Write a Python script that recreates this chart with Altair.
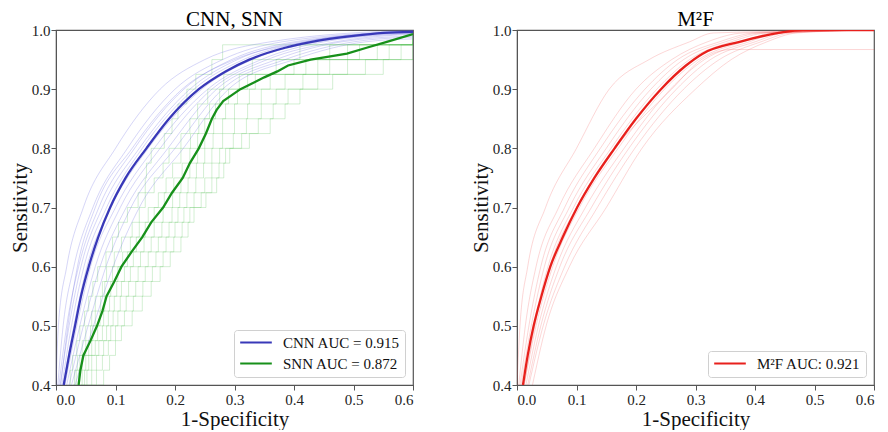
import altair as alt
import pandas as pd

# ---------------- tick labels ----------------
x_ticks = [0.0, 0.1, 0.2, 0.3, 0.4, 0.5, 0.6]
y_ticks = [0.4, 0.5, 0.6, 0.7, 0.8, 0.9, 1.0]

# ---------------- left panel: CNN / SNN ----------------
cnn_label = "CNN AUC = 0.915"
snn_label = "SNN AUC = 0.872"

cnn_mean_tpr = [0.4, 0.45, 0.5, 0.55, 0.6, 0.65, 0.7, 0.75, 0.8, 0.85, 0.9, 0.93, 0.95, 0.97, 0.98, 0.99, 0.995, 0.997]
cnn_mean_fpr = [0.013, 0.022, 0.032, 0.042, 0.055, 0.071, 0.091, 0.117, 0.152, 0.19, 0.24, 0.285, 0.325, 0.385, 0.43, 0.50, 0.55, 0.6]

snn_mean_tpr = [0.4, 0.425, 0.45, 0.475, 0.5, 0.525, 0.55, 0.575, 0.6, 0.625, 0.65, 0.675, 0.7, 0.725, 0.75,
                0.775, 0.8, 0.825, 0.85, 0.865, 0.88, 0.9, 0.92, 0.93, 0.94, 0.95, 0.96, 0.97, 0.98, 0.993]
snn_mean_fpr = [0.038, 0.041, 0.046, 0.058, 0.069, 0.078, 0.085, 0.098, 0.110, 0.127, 0.145, 0.160, 0.180, 0.195, 0.213,
                0.225, 0.240, 0.252, 0.262, 0.270, 0.281, 0.310, 0.350, 0.372, 0.390, 0.428, 0.489, 0.522, 0.556, 0.6]

# individual CNN runs: FPR at these sensitivity levels, then end value at FPR 0.6
cnn_run_tpr = [0.4, 0.5, 0.6, 0.7, 0.8, 0.9, 0.95, 0.98]
cnn_runs = {
    "c1": [0.000, 0.004, 0.018, 0.046, 0.100, 0.175, 0.250, 0.36],
    "c2": [0.003, 0.012, 0.030, 0.062, 0.120, 0.200, 0.280, 0.38],
    "c3": [0.005, 0.018, 0.038, 0.072, 0.132, 0.215, 0.295, 0.40],
    "c4": [0.007, 0.022, 0.042, 0.078, 0.140, 0.225, 0.305, 0.41],
    "c5": [0.010, 0.026, 0.047, 0.085, 0.145, 0.232, 0.315, 0.42],
    "c6": [0.012, 0.030, 0.052, 0.092, 0.155, 0.245, 0.330, 0.44],
    "c7": [0.015, 0.035, 0.058, 0.100, 0.165, 0.255, 0.345, 0.45],
    "c8": [0.018, 0.040, 0.066, 0.108, 0.175, 0.262, 0.355, 0.47],
    "c9": [0.022, 0.046, 0.074, 0.118, 0.188, 0.270, 0.370, 0.48],
    "c10": [0.026, 0.054, 0.084, 0.126, 0.200, 0.280, 0.385, 0.50],
    "c11": [0.032, 0.063, 0.096, 0.140, 0.214, 0.290, 0.400, 0.52],
    "c12": [0.008, 0.020, 0.036, 0.066, 0.128, 0.212, 0.300, 0.42],
}
cnn_run_end = {"c1": 1.0, "c2": 0.998, "c3": 0.997, "c4": 0.996, "c5": 0.999, "c6": 0.995,
               "c7": 0.994, "c8": 0.993, "c9": 0.99, "c10": 0.988, "c11": 0.985, "c12": 0.997}

# individual SNN runs (step curves)
snn_run_tpr = [0.4, 0.425, 0.45, 0.475, 0.5, 0.525, 0.55, 0.575, 0.6, 0.625, 0.65, 0.675, 0.7, 0.725, 0.75,
               0.775, 0.8, 0.825, 0.85, 0.875, 0.9, 0.925, 0.95, 0.975]
snn_runs = {
    "s1": [0.022, 0.024, 0.028, 0.035, 0.040, 0.048, 0.055, 0.062, 0.070, 0.084, 0.095, 0.105, 0.120, 0.138, 0.150,
           0.152, 0.160, 0.182, 0.195, 0.205, 0.220, 0.235, 0.262, 0.280],
    "s2": [0.028, 0.031, 0.036, 0.044, 0.050, 0.060, 0.066, 0.078, 0.085, 0.098, 0.110, 0.128, 0.140, 0.150, 0.165,
           0.180, 0.190, 0.210, 0.225, 0.238, 0.255, 0.282, 0.330, 0.410],
    "s3": [0.030, 0.034, 0.040, 0.050, 0.058, 0.066, 0.075, 0.082, 0.095, 0.112, 0.125, 0.140, 0.155, 0.172, 0.185,
           0.196, 0.210, 0.226, 0.240, 0.258, 0.275, 0.308, 0.370, 0.460],
    "s4": [0.034, 0.038, 0.044, 0.055, 0.062, 0.074, 0.082, 0.092, 0.104, 0.120, 0.135, 0.150, 0.165, 0.182, 0.198,
           0.212, 0.225, 0.238, 0.250, 0.268, 0.290, 0.322, 0.400, 0.490],
    "s5": [0.038, 0.044, 0.050, 0.060, 0.070, 0.080, 0.090, 0.102, 0.115, 0.130, 0.148, 0.165, 0.180, 0.196, 0.210,
           0.225, 0.238, 0.250, 0.265, 0.285, 0.305, 0.335, 0.420, 0.510],
    "s6": [0.042, 0.048, 0.055, 0.066, 0.078, 0.088, 0.098, 0.110, 0.125, 0.142, 0.160, 0.178, 0.195, 0.208, 0.222,
           0.236, 0.250, 0.264, 0.280, 0.300, 0.325, 0.360, 0.440, 0.540],
    "s7": [0.046, 0.052, 0.060, 0.072, 0.085, 0.096, 0.108, 0.122, 0.138, 0.155, 0.172, 0.190, 0.205, 0.220, 0.235,
           0.248, 0.262, 0.280, 0.300, 0.322, 0.345, 0.385, 0.460, 0.560],
    "s8": [0.052, 0.060, 0.068, 0.080, 0.092, 0.104, 0.118, 0.134, 0.150, 0.168, 0.185, 0.200, 0.215, 0.232, 0.250,
           0.262, 0.275, 0.298, 0.320, 0.345, 0.370, 0.415, 0.490, 0.580],
    "s9": [0.060, 0.068, 0.078, 0.088, 0.100, 0.115, 0.130, 0.146, 0.162, 0.180, 0.198, 0.212, 0.225, 0.244, 0.262,
           0.274, 0.285, 0.312, 0.340, 0.365, 0.390, 0.440, 0.520, 0.600],
    "s10": [0.070, 0.080, 0.090, 0.100, 0.110, 0.128, 0.145, 0.160, 0.175, 0.192, 0.210, 0.222, 0.232, 0.252, 0.270,
            0.282, 0.292, 0.325, 0.360, 0.385, 0.410, 0.465, 0.550, 0.600],
}
snn_run_end = {"s1": 0.998, "s2": 0.995, "s3": 0.99, "s4": 0.993, "s5": 0.99, "s6": 0.985,
               "s7": 0.98, "s8": 0.978, "s9": 0.975, "s10": 0.975}

# ---------------- right panel: M2F ----------------
m2f_label = "M\u00b2F AUC: 0.921"

m2f_mean_tpr = [0.4, 0.45, 0.5, 0.55, 0.6, 0.65, 0.7, 0.75, 0.8, 0.85, 0.9, 0.94, 0.96, 0.98, 0.995, 1.0, 1.0]
m2f_mean_fpr = [0.010, 0.018, 0.028, 0.041, 0.056, 0.077, 0.101, 0.130, 0.164, 0.200, 0.242, 0.284, 0.312, 0.374, 0.440, 0.480, 0.6]

m2f_run_tpr = [0.4, 0.5, 0.6, 0.7, 0.8, 0.9, 0.95, 0.98, 0.995]
m2f_runs = {
    "r1": [0.000, 0.005, 0.018, 0.048, 0.100, 0.155, 0.222, 0.290, 0.33],
    "r2": [0.003, 0.014, 0.032, 0.070, 0.130, 0.200, 0.260, 0.320, 0.38],
    "r3": [0.005, 0.020, 0.040, 0.080, 0.140, 0.215, 0.270, 0.340, 0.40],
    "r4": [0.007, 0.024, 0.046, 0.088, 0.150, 0.225, 0.280, 0.350, 0.41],
    "r5": [0.010, 0.028, 0.052, 0.095, 0.158, 0.235, 0.290, 0.360, 0.42],
    "r6": [0.012, 0.032, 0.060, 0.105, 0.170, 0.248, 0.305, 0.380, 0.43],
    "r7": [0.015, 0.036, 0.066, 0.115, 0.180, 0.258, 0.315, 0.390, 0.44],
    "r8": [0.018, 0.040, 0.072, 0.125, 0.188, 0.268, 0.325, 0.400, 0.45],
    "r9": [0.020, 0.044, 0.080, 0.135, 0.198, 0.280, 0.340, 0.410, 0.46],
    "r10": [0.026, 0.049, 0.088, 0.150, 0.210, 0.300, 0.360, 0.420, 0.47],
}
# one run that flattens out below 1.0
m2f_flat_tpr = [0.4, 0.5, 0.6, 0.7, 0.8, 0.9, 0.95, 0.967, 0.967]
m2f_flat_fpr = [0.012, 0.030, 0.055, 0.100, 0.165, 0.260, 0.310, 0.360, 0.6]

# ---------------- styling ----------------
FONT = "Liberation Serif"
BLUE = "#3838b8"
GREEN = "#17901a"
RED = "#e8201c"
THIN_BLUE = "#5a5ae0"
THIN_GREEN = "#4cbf4c"
THIN_RED = "#f04a4a"


def rows(curve, xs, ys):
    return [{"curve": curve, "fpr": x, "tpr": y, "idx": i} for i, (x, y) in enumerate(zip(xs, ys))]


def runs_df(runs, levels, ends=None):
    out = []
    for name, xs in runs.items():
        r = rows(name, xs, levels)
        end_y = ends[name] if ends is not None else 1.0
        r.append({"curve": name, "fpr": 0.6, "tpr": end_y, "idx": len(r)})
        out.extend(r)
    return pd.DataFrame(out)


def xenc():
    return alt.X("fpr:Q", scale=alt.Scale(domain=[0, 0.6], nice=False, zero=False),
                 axis=alt.Axis(values=x_ticks, format=".1f", title="1-Specificity",
                               labelPadding=2, titlePadding=1))


def yenc():
    return alt.Y("tpr:Q", scale=alt.Scale(domain=[0.4, 1.0], nice=False, zero=False),
                 axis=alt.Axis(values=y_ticks, format=".1f", title="Sensitivity",
                               labelPadding=1, titlePadding=1))


def thin(df, color, interp, opacity=0.3):
    return alt.Chart(df).mark_line(
        color=color, strokeWidth=0.9, opacity=opacity, clip=True, interpolate=interp
    ).encode(x=xenc(), y=yenc(), detail="curve:N", order="idx:Q")


def legend():
    return alt.Legend(title=None, orient="bottom-right", offset=8, symbolType="stroke",
                      symbolSize=1000, symbolStrokeWidth=2, labelFont=FONT, labelFontSize=15,
                      labelColor="#111", labelOffset=10, strokeColor="#d0d0d0", fillColor="white",
                      padding=5, cornerRadius=3, rowPadding=5, clipHeight=15, labelLimit=300)


def title(text):
    return alt.TitleParams(text, font=FONT, fontSize=21, fontWeight="normal", offset=-10, dy=-3)


# left
cnn_mean = pd.DataFrame(rows(cnn_label, cnn_mean_fpr, cnn_mean_tpr))
snn_mean = pd.DataFrame(rows(snn_label, snn_mean_fpr, snn_mean_tpr))
left_scale = alt.Scale(domain=[cnn_label, snn_label], range=[BLUE, GREEN])

left = alt.layer(
    thin(runs_df(snn_runs, snn_run_tpr, snn_run_end), THIN_GREEN, "step-after", opacity=0.28),
    thin(runs_df(cnn_runs, cnn_run_tpr, cnn_run_end), THIN_BLUE, "monotone", opacity=0.28),
    alt.Chart(snn_mean).mark_line(strokeWidth=2.3, clip=True).encode(
        x=xenc(), y=yenc(), order="idx:Q",
        color=alt.Color("curve:N", scale=left_scale, legend=legend()),
    ),
    alt.Chart(cnn_mean).mark_line(strokeWidth=2.3, clip=True, interpolate="monotone").encode(
        x=xenc(), y=yenc(), order="idx:Q",
        color=alt.Color("curve:N", scale=left_scale, legend=legend()),
    ),
).properties(width=357, height=355, title=title("CNN, SNN"))

# right
flat = pd.DataFrame(rows("rflat", m2f_flat_fpr, m2f_flat_tpr))
m2f_thin = pd.concat([runs_df(m2f_runs, m2f_run_tpr), flat], ignore_index=True)
m2f_mean = pd.DataFrame(rows(m2f_label, m2f_mean_fpr, m2f_mean_tpr))

right = alt.layer(
    thin(m2f_thin, THIN_RED, "monotone", opacity=0.25),
    alt.Chart(m2f_mean).mark_line(strokeWidth=2.3, clip=True, interpolate="monotone").encode(
        x=xenc(), y=yenc(), order="idx:Q",
        color=alt.Color("curve:N", scale=alt.Scale(domain=[m2f_label], range=[RED]), legend=legend()),
    ),
).properties(width=357, height=355, title=title("M\u00b2F"))

chart = alt.hconcat(left, right, spacing=54).resolve_scale(color="independent").resolve_legend(
    color="independent"
).properties(padding={"left": 0, "top": 0, "right": 0, "bottom": 0}).configure_view(
    stroke="#555", strokeWidth=1.2
).configure_axis(
    labelFont=FONT, labelFontSize=15, labelColor="#222", titleFont=FONT, titleFontSize=21,
    titleFontWeight="normal", titleColor="#111", grid=False, domainColor="#555", tickColor="#555",
    tickSize=5
)

chart.save("out.html", embed_options={"renderer": "svg", "actions": False})
